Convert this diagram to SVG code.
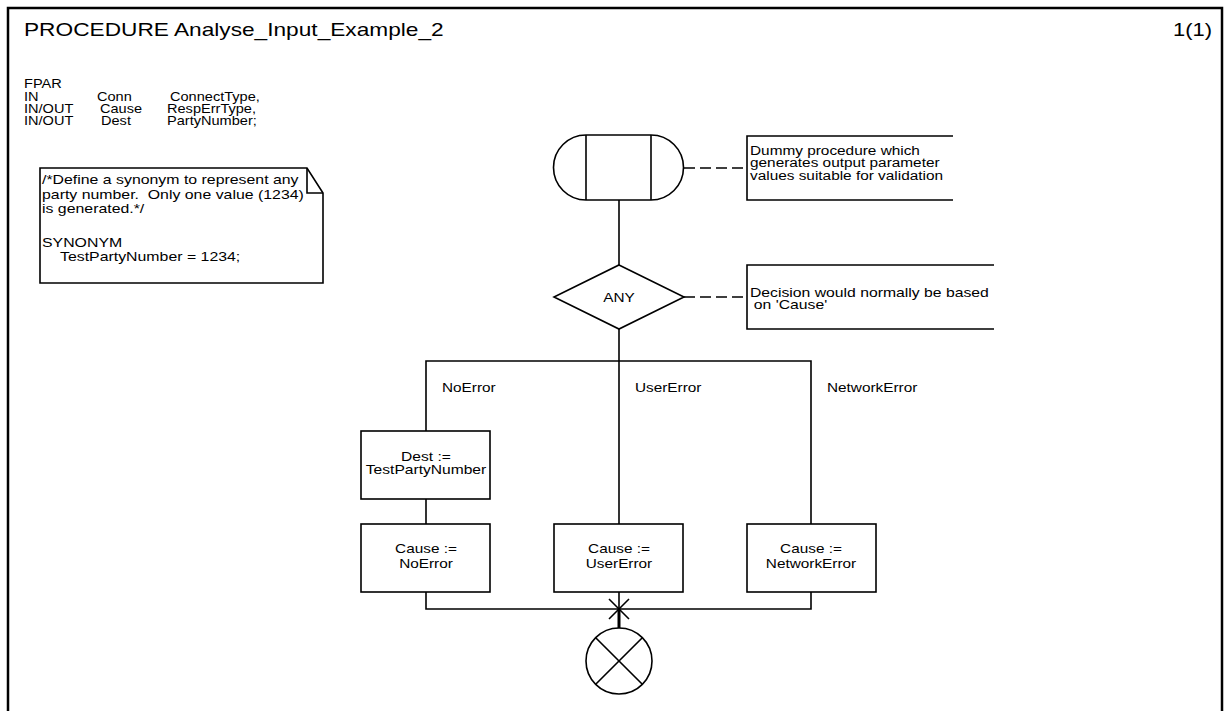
<svg xmlns="http://www.w3.org/2000/svg" width="1229" height="711" viewBox="0 0 1229 711">
<style>
text{font-family:"Liberation Sans",Arial,sans-serif;fill:#000}
.t{font-size:13px}
.c{font-size:12.5px}
.ttl{font-size:18px}
.s{fill:#fff;stroke:#000;stroke-width:1.6}
.n{fill:none;stroke:#000;stroke-width:1.6}
.d{fill:none;stroke:#000;stroke-width:1.6;stroke-dasharray:11 5}
</style>
<rect width="1229" height="711" fill="#fff"/>
<g id="frame">
<rect x="8" y="8" width="1214" height="740" fill="none" stroke="#000" stroke-width="2.5"/>
<text class="ttl" transform="matrix(1.26,0,0,1,24,36)">PROCEDURE Analyse_Input_Example_2</text>
<text class="ttl" text-anchor="end" transform="matrix(1.22,0,0,1,1212,36)">1(1)</text>
</g>
<g id="fpar">
<text class="t" transform="matrix(1.12,0,0,1,24,0)"><tspan x="0" y="88">FPAR</tspan><tspan x="0" y="101">IN</tspan><tspan x="0" y="113">IN/OUT</tspan><tspan x="0" y="125">IN/OUT</tspan></text>
<text class="t" transform="matrix(1.12,0,0,1,97,0)"><tspan x="0" y="101">Conn</tspan></text>
<text class="t" transform="matrix(1.12,0,0,1,100,0)"><tspan x="0" y="113">Cause</tspan><tspan x="0.9" y="125">Dest</tspan></text>
<text class="t" transform="matrix(1.12,0,0,1,170,0)"><tspan x="0" y="101">ConnectType,</tspan></text>
<text class="t" transform="matrix(1.12,0,0,1,167,0)"><tspan x="0" y="113">RespErrType,</tspan><tspan x="0" y="125">PartyNumber;</tspan></text>
</g>
<g id="synonym_note">
<path class="s" d="M40,168 H307 L323,193 V283 H40 Z"/>
<path class="n" d="M307,168 V193 H323"/>
<text class="t" xml:space="preserve" transform="matrix(1.22,0,0,1,42,0)"><tspan x="0" y="184">/*Define a synonym to represent any</tspan><tspan x="0" y="199">party number.  Only one value (1234)</tspan><tspan x="0" y="213">is generated.*/</tspan><tspan x="0" y="247">SYNONYM</tspan></text>
<text class="t" transform="matrix(1.22,0,0,1,60,261)">TestPartyNumber = 1234;</text>
</g>
<g id="connectors">
<line class="n" x1="619" y1="200" x2="619" y2="265"/>
<line class="n" x1="619" y1="329" x2="619" y2="361"/>
<polyline class="n" points="426,431 426,361 811,361 811,524"/>
<line class="n" x1="619" y1="361" x2="619" y2="524"/>
<line class="n" x1="426" y1="499" x2="426" y2="524"/>
<polyline class="n" points="426,592 426,609 811,609 811,592"/>
<line class="n" x1="619" y1="592" x2="619" y2="609"/>
<line stroke="#000" stroke-width="3" x1="619" y1="609" x2="619" y2="628"/>
<path class="n" d="M609,599 L629,619 M629,599 L609,619"/>
<line class="d" x1="684" y1="168" x2="747" y2="168"/>
<line class="d" x1="684" y1="297" x2="747" y2="297"/>
<text class="t" transform="matrix(1.18,0,0,1,442,392)">NoError</text>
<text class="t" transform="matrix(1.18,0,0,1,635,392)">UserError</text>
<text class="t" transform="matrix(1.18,0,0,1,827,392)">NetworkError</text>
</g>
<g id="start">
<path class="s" d="M586,135 H651 A32.5,32.5 0 0 1 651,200 H586 A32.5,32.5 0 0 1 586,135 Z"/>
<line class="n" x1="586" y1="135" x2="586" y2="200"/>
<line class="n" x1="651" y1="135" x2="651" y2="200"/>
</g>
<g id="comment_start">
<polyline class="n" points="953,136 747,136 747,200 953,200"/>
<text class="c" transform="matrix(1.23,0,0,1,750,0)"><tspan x="0" y="155">Dummy procedure which</tspan><tspan x="0" y="167.5">generates output parameter</tspan><tspan x="0" y="180">values suitable for validation</tspan></text>
</g>
<g id="decision">
<polygon class="s" points="619,265 684,297 619,329 554,297"/>
<text class="t" text-anchor="middle" transform="matrix(1.18,0,0,1,619,302)">ANY</text>
</g>
<g id="comment_decision">
<polyline class="n" points="994,265 747,265 747,329 994,329"/>
<text class="c" transform="matrix(1.26,0,0,1,750,0)"><tspan x="0" y="297">Decision would normally be based</tspan><tspan x="3" y="309">on 'Cause'</tspan></text>
</g>
<g id="task_dest">
<rect class="s" x="361" y="431" width="129" height="68"/>
<text class="t" text-anchor="middle" transform="matrix(1.2,0,0,1,426,0)"><tspan x="0" y="461">Dest :=</tspan><tspan x="0" y="474">TestPartyNumber</tspan></text>
</g>
<g id="task_noerror">
<rect class="s" x="361" y="524" width="129" height="68"/>
<text class="t" text-anchor="middle" transform="matrix(1.18,0,0,1,426,0)"><tspan x="0" y="553">Cause :=</tspan><tspan x="0" y="568">NoError</tspan></text>
</g>
<g id="task_usererror">
<rect class="s" x="554" y="524" width="129" height="68"/>
<text class="t" text-anchor="middle" transform="matrix(1.18,0,0,1,619,0)"><tspan x="0" y="553">Cause :=</tspan><tspan x="0" y="568">UserError</tspan></text>
</g>
<g id="task_networkerror">
<rect class="s" x="747" y="524" width="129" height="68"/>
<text class="t" text-anchor="middle" transform="matrix(1.18,0,0,1,811,0)"><tspan x="0" y="553">Cause :=</tspan><tspan x="0" y="568">NetworkError</tspan></text>
</g>
<g id="return">
<circle class="s" cx="619" cy="661" r="33"/>
<path class="n" d="M595.7,637.7 L642.3,684.3 M642.3,637.7 L595.7,684.3"/>
</g>
</svg>
